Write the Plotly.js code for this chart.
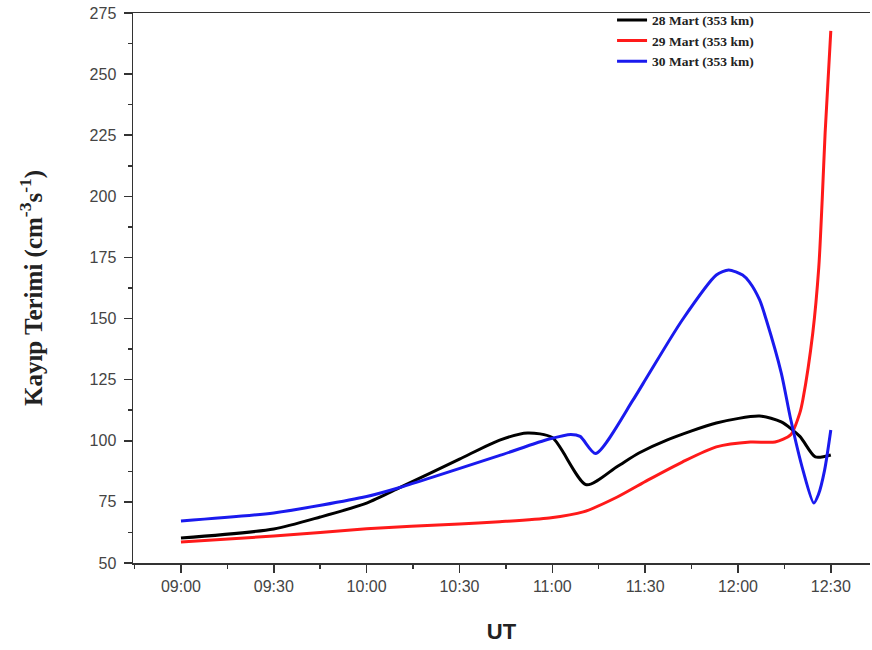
<!DOCTYPE html>
<html>
<head>
<meta charset="utf-8">
<script src="https://cdn.plot.ly/plotly-3.0.1.min.js"></script>
<style>html,body{margin:0;padding:0;background:#fff;}#chart{width:872px;height:650px;}</style>
</head>
<body>
<div id="chart"></div>
<script>
// Series names
const seriesNames = ["28 Mart (353 km)", "29 Mart (353 km)", "30 Mart (353 km)"];

// 28 Mart (black)
const t28 = ["09:00","09:30","09:45","10:00","10:11","10:30","10:43","10:52","11:00","11:11","11:21","11:28","11:37","11:53","12:07","12:14","12:20","12:25","12:30"];
const v28 = [60.2, 63.9, 68.8, 74.5, 81, 92.5, 100.3, 103.2, 101.3, 82, 89.5, 95, 100.3, 107.3, 110.1, 107.7, 101.8, 93.4, 94.2];

// 29 Mart (red)
const t29 = ["09:00","09:30","10:00","10:30","10:43","10:59","11:10","11:21","11:31","11:42","11:53","12:04","12:12","12:17","12:20","12:21","12:24:10","12:26:07","12:27:13","12:28:10","12:30"];
const v29 = [58.6, 61, 64, 66, 66.9, 68.4, 70.9, 77, 84, 91.3, 97.5, 99.5, 99.5, 102.4, 111.4, 117, 144, 171, 198.5, 226, 267.7];

// 30 Mart (blue)
const t30 = ["09:00","09:30","10:00","10:11","10:43","10:59","11:06","11:09","11:14","11:26","11:31","11:42","11:53","11:57","12:01:30","12:03:40","12:07","12:09:10","12:14","12:17","12:21","12:24:30","12:26","12:28","12:30"];
const v30 = [67.2, 70.5, 77.2, 81, 94, 100.7, 102.6, 101.8, 94.8, 116.5, 126.9, 149.4, 167.8, 169.9, 167.8, 165, 157.6, 149.4, 127.7, 109, 88, 74.5, 78, 88, 104.4];

const colors = ["#000000", "#ff1a1a", "#1a1aee"];
const day = "2000-01-01 ";
function toDate(arr){ return arr.map(s => day + (s.length === 5 ? s + ":00" : s)); }

const times = [t28, t29, t30];
const vals = [v28, v29, v30];
const traces = seriesNames.map((n, i) => ({
  x: toDate(times[i]), y: vals[i], name: n, type: "scatter", mode: "lines",
  line: {color: colors[i], width: 3, shape: "spline", smoothing: 0.7}
}));

const layout = {
  width: 872, height: 650,
  margin: {l: 133, r: 2, t: 13, b: 87},
  paper_bgcolor: "#fff", plot_bgcolor: "#fff",
  showlegend: true,
  legend: {x: 0.65, y: 1.015, xanchor: "left", yanchor: "top", bgcolor: "rgba(0,0,0,0)",
    font: {family: "Liberation Serif", size: 13.5, color: "#222", weight: "bold"},
    tracegroupgap: 0, itemwidth: 30},
  xaxis: {
    type: "date",
    range: [day + "08:44:30", day + "12:42:40"],
    tickformat: "%H:%M", tick0: day + "09:00:00", dtick: 1800000,
    ticks: "outside", ticklen: 8, tickwidth: 1.5, tickcolor: "#333",
    minor: {dtick: 900000, ticks: "outside", ticklen: 4, tickwidth: 1.5, tickcolor: "#333"},
    showline: true, linecolor: "#333", linewidth: 1.5, mirror: true,
    showgrid: false, zeroline: false,
    tickfont: {family: "Liberation Sans", size: 16, color: "#444"},
    title: {text: "UT", font: {family: "Liberation Sans", size: 22, color: "#222", weight: "bold"}, standoff: 30}
  },
  yaxis: {
    range: [50, 275], tick0: 50, dtick: 25,
    ticks: "outside", ticklen: 8, tickwidth: 1.5, tickcolor: "#333",
    minor: {dtick: 12.5, ticks: "outside", ticklen: 4, tickwidth: 1.5, tickcolor: "#333"},
    showline: true, linecolor: "#333", linewidth: 1.5,
    showgrid: false, zeroline: false, ticklabelstandoff: 4,
    tickfont: {family: "Liberation Sans", size: 16, color: "#444"},
    title: {text: "Kayıp Terimi (cm<sup>-3</sup>s<sup>-1</sup>)", font: {family: "Liberation Serif", size: 25, color: "#222", weight: "bold"}, standoff: 40}
  }
};

Plotly.newPlot("chart", traces, layout, {displayModeBar: false, staticPlot: true});
</script>
</body>
</html>
